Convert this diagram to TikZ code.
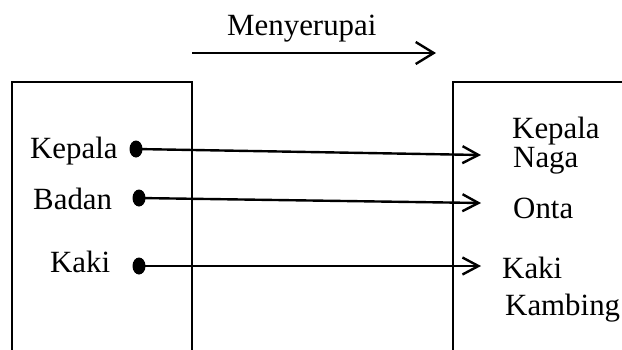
\documentclass[tikz,border=0pt]{standalone}
\usepackage{fontspec}
\setmainfont{Liberation Serif}
\usetikzlibrary{arrows.meta,shapes.geometric}
\begin{document}
\begin{tikzpicture}[x=1bp,y=-1bp,
  lbl/.style={inner sep=0pt, anchor=base west, font=\fontsize{31}{36}\selectfont},
  dotnode/.style={ellipse, fill=black, draw=none, minimum width=13bp, minimum height=17bp, inner sep=0pt},
  boxline/.style={line width=2.6bp},
  conn/.style={line width=2.4bp, -{Straight Barb[length=16bp,width=17bp,line width=2.4bp]}}]
\useasboundingbox (0,0) rectangle (622,349);
% boxes (open at the bottom / right)
\draw[boxline] (12,352) -- (12,82) -- (192,82) -- (192,352);
\draw[boxline] (453,352) -- (453,82) -- (625,82);
% top arrow
\node[lbl] (men) at (227,35) {Menyerupai};
\coordinate (ms) at (192,53);
\coordinate (me) at (436,53);
\draw[line width=2.4bp, -{Straight Barb[length=18bp,width=22bp,line width=2.4bp]}] (ms) -- (me);
% left labels
\node[lbl] (lk) at (30,158) {Kepala};
\node[lbl] (lb) at (33,209) {Badan};
\node[lbl] (lkk) at (50,272) {Kaki};
% dots
\node[dotnode] (d1) at (136,149) {};
\node[dotnode] (d2) at (139,198) {};
\node[dotnode] (d3) at (139,266) {};
% right labels
\node[lbl] (rk) at (512,138) {Kepala};
\node[lbl] (rn) at (513,167) {Naga};
\node[lbl] (ro) at (513,218) {Onta};
\node[lbl] (rkk) at (502,278) {Kaki};
\node[lbl] (rkb) at (505,315) {Kambing};
% arrow targets
\coordinate (t1) at (481,155);
\coordinate (t2) at (481,203);
\coordinate (t3) at (481,266);
\draw[conn] (d1.center) -- (t1);
\draw[conn] (d2.center) -- (t2);
\draw[conn] (d3.center) -- (t3);
\end{tikzpicture}
\end{document}
